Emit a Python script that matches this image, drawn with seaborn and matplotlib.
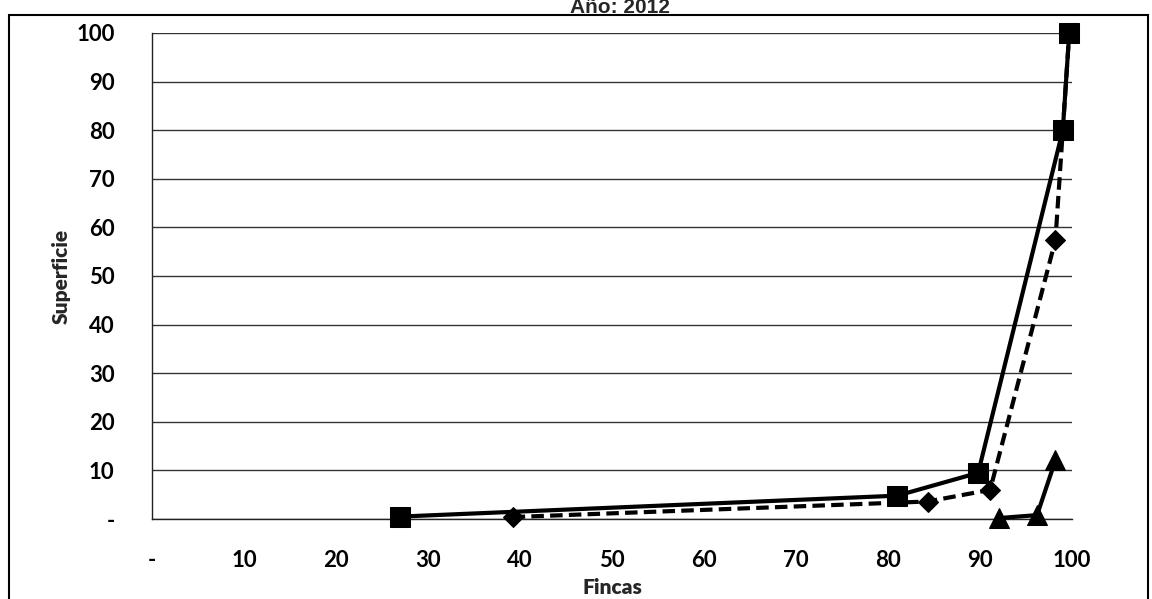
import numpy as np
import pandas as pd
import matplotlib
matplotlib.use('Agg')
import matplotlib.pyplot as plt
import seaborn as sns
from matplotlib.patches import Rectangle

# data
serie_a_x = [27.0, 81.0, 89.8, 99.0, 99.7]
serie_a_y = [0.5, 4.8, 9.5, 80.0, 100.0]
serie_b_x = [39.2, 84.3, 91.1, 98.2, 99.0, 99.7]
serie_b_y = [0.4, 3.6, 6.0, 57.4, 80.0, 100.0]
serie_c_x = [92.1, 96.2, 98.2]
serie_c_y = [0.2, 0.8, 12.1]

ticks = list(range(0, 101, 10))
tick_labels = ['-'] + [str(t) for t in ticks[1:]]

sns.set_theme(style='white')
plt.rcParams['font.family'] = ['Lato', 'DejaVu Sans']

fig = plt.figure(figsize=(11.52, 5.99), dpi=100)
ax = fig.add_axes([152/1152, 1 - 519/599, 920/1152, 486/599])

df_a = pd.DataFrame({'x': serie_a_x, 'y': serie_a_y})
df_b = pd.DataFrame({'x': serie_b_x, 'y': serie_b_y})
df_c = pd.DataFrame({'x': serie_c_x, 'y': serie_c_y})

sns.lineplot(data=df_b, x='x', y='y', ax=ax, sort=False, color='black',
             linewidth=3, linestyle=(0, (3, 1.5)), marker='D', markersize=10,
             markeredgecolor='black', zorder=3, clip_on=False)
sns.lineplot(data=df_a, x='x', y='y', ax=ax, sort=False, color='black',
             linewidth=3, marker='s', markersize=14, markeredgecolor='black',
             zorder=4, clip_on=False)
sns.lineplot(data=df_c, x='x', y='y', ax=ax, sort=False, color='black',
             linewidth=3, marker='^', markersize=15, markeredgecolor='black',
             zorder=4, clip_on=False)

ax.set_xlim(0, 100)
ax.set_ylim(0, 100)
ax.set_xticks(ticks)
ax.set_xticklabels(tick_labels)
ax.set_yticks(ticks)
ax.set_yticklabels(tick_labels)
ax.tick_params(axis='both', length=0, labelsize=16, colors='black')
ax.tick_params(axis='y', pad=27)
ax.tick_params(axis='x', pad=22)
for lab in ax.get_xticklabels() + ax.get_yticklabels():
    lab.set_fontweight('bold')

ax.yaxis.grid(True, color='#333333', linewidth=1)
ax.xaxis.grid(False)
for s in ['top', 'right']:
    ax.spines[s].set_visible(False)
for s in ['left', 'bottom']:
    ax.spines[s].set_color('#222222')
    ax.spines[s].set_linewidth(1)

ax.set_xlabel('Fincas', fontsize=15, fontweight='heavy', labelpad=5)
ax.set_ylabel('Superficie', fontsize=15, fontweight='heavy', labelpad=4)

# outer frame of the chart area
fig.patches.append(Rectangle((9/1152, -0.02), 1139/1152, 1 - 15/599 + 0.02,
                             transform=fig.transFigure, fill=False,
                             edgecolor='black', linewidth=1.5))
fig.text(620/1152, 1 - 13/599, 'Año: 2012', ha='center', va='baseline',
         fontsize=15, fontweight='bold', family=['Liberation Sans', 'DejaVu Sans'])

fig.savefig('out.png', dpi=100)
